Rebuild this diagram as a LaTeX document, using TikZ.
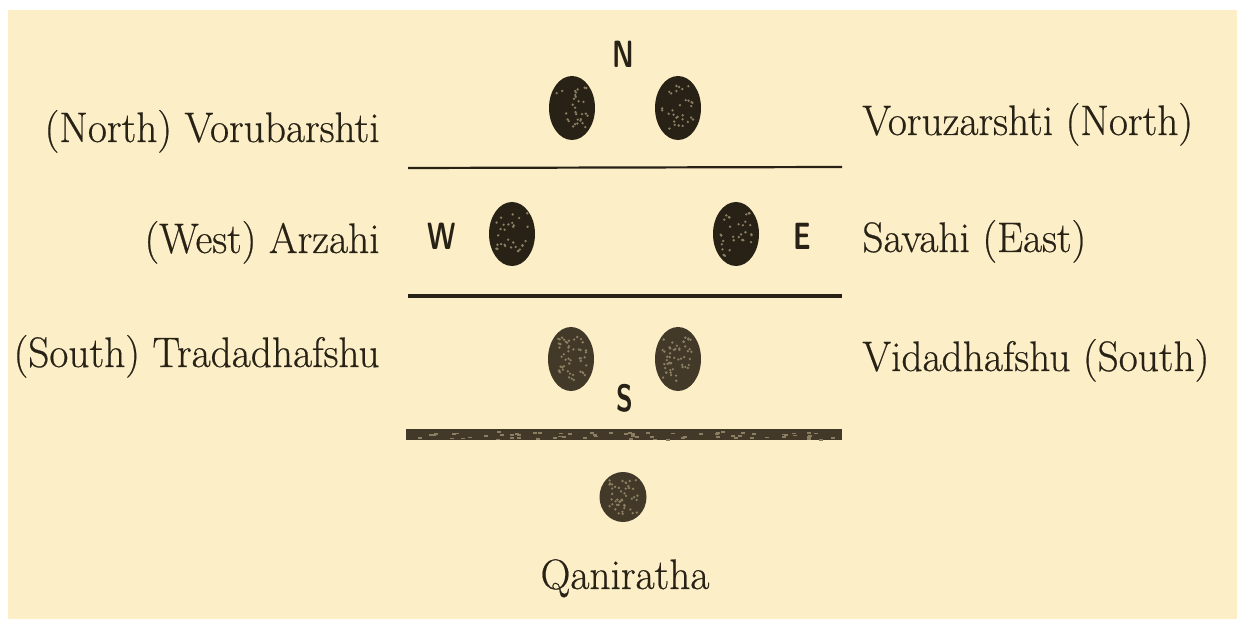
\documentclass[tikz,border=0pt]{standalone}
\usepackage{fontspec}
\usetikzlibrary{shapes.geometric}
\newfontfamily\heavy[FakeBold=0.5]{Latin Modern Roman}
\definecolor{paper}{RGB}{252,239,199}
\definecolor{ink}{RGB}{40,34,22}
\definecolor{inkS}{RGB}{66,57,40}
\definecolor{speck}{RGB}{140,126,98}
\newcommand\dotspecks[2]{%
  \foreach \i in {1,...,#2}{\fill[speck] ([shift={(rand*16,rand*22)}]#1.center) circle (0.65pt);}}
\newcommand\lab[1]{\scalebox{1}[1.03]{#1}}
\newcommand\dirl[1]{\scalebox{0.72}[1]{\sffamily\bfseries\fontsize{19}{22}\selectfont #1}}
\begin{document}
\begin{tikzpicture}[x=0.5pt,y=-0.5pt,
  lbl/.style={text=ink, inner sep=0pt, font=\heavy\fontsize{20.7}{24}\selectfont},
  dir/.style={text=ink, inner sep=0pt, anchor=base},
  dot/.style={ellipse, fill=ink, minimum width=23pt, minimum height=32pt, inner sep=0pt},
  sdot/.style={dot, fill=inkS},
  rule/.style={draw=ink, line cap=butt}]
\fill[white] (0,0) rectangle (1237,619);
\fill[paper] (8,10) rectangle (1237,619);
\useasboundingbox (0,0) rectangle (1237,619);
\pgfmathsetseed{11}
% north row
\node[dir] (N) at (623,68) {\dirl{N}};
\node[dot] (nw) at (572,108) {};
\node[dot] (ne) at (678,108) {};
\dotspecks{nw}{30}\dotspecks{ne}{30}
\node[lbl, anchor=base east] (lnorth) at (380,142) {\lab{(North) Vorubarshti}};
\node[lbl, anchor=base west] (rnorth) at (862,135) {\lab{Voruzarshti (North)}};
\coordinate (r1a) at (408,168);
\coordinate (r1b) at (842,167);
\draw[rule, line width=1.1pt] (r1a) -- (r1b);
% west-east row
\node[dir] (W) at (442,250) {\dirl{W}};
\node[dot] (w) at (512,234) {};
\node[dot] (e) at (736,234) {};
\dotspecks{w}{30}\dotspecks{e}{30}
\node[dir] (E) at (802,250) {\dirl{E}};
\node[lbl, anchor=base east] (lwest) at (380,253) {\lab{(West) Arzahi}};
\node[lbl, anchor=base west] (reast) at (862,252) {\lab{Savahi (East)}};
\coordinate (r2a) at (408,296);
\coordinate (r2b) at (842,296);
\draw[rule, line width=2.4pt] (r2a) -- (r2b);
% south row
\node[sdot] (sw) at (571,359) {};
\node[sdot] (se) at (678,359) {};
\dotspecks{sw}{50}\dotspecks{se}{50}
\node[dir] (S) at (625,412) {\dirl{S}};
\node[lbl, anchor=base east] (lsouth) at (380,367) {\lab{(South) Tradadhafshu}};
\node[lbl, anchor=base west] (rsouth) at (862,371) {\lab{Vidadhafshu (South)}};
\coordinate (r3a) at (406,435);
\coordinate (r3b) at (842,435);
\draw[rule, draw=inkS, line width=5.5pt] (r3a) -- (r3b);
\foreach \i in {1,...,70}{\fill[speck] ([shift={(rnd*430,rand*4)}]r3a) rectangle ++(4,1.6);}
% bottom
\node[sdot, minimum width=23.5pt, minimum height=25pt] (q) at (623,497) {};
\foreach \i in {1,...,45}{\fill[speck] ([shift={(rand*15,rand*17)}]q.center) circle (0.65pt);}
\node[lbl, anchor=base] (qname) at (625,589) {\lab{Qaniratha}};
\end{tikzpicture}
\end{document}
